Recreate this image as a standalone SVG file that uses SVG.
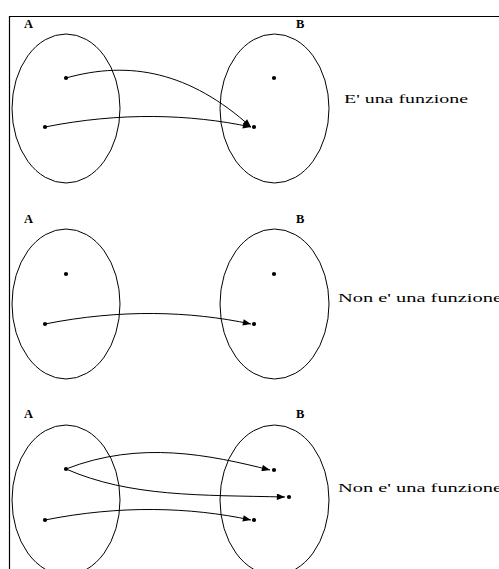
<svg xmlns="http://www.w3.org/2000/svg" width="499" height="569" viewBox="0 0 499 569">
<style>
.set{fill:none;stroke:#000;stroke-width:1}
.dot{fill:#000}
.lbl{font-family:"Liberation Serif",serif;font-size:12.5px;font-weight:bold;fill:#000}
.cap{font-family:"Liberation Serif",serif;font-size:13px;fill:#000}
.arr{fill:none;stroke:#000;stroke-width:1;marker-end:url(#ah)}
</style>
<defs>
<marker id="ah" viewBox="0 0 10 8" refX="10" refY="4" markerWidth="9" markerHeight="6.5" markerUnits="userSpaceOnUse" orient="auto">
<path d="M0,0 L10,4 L0,8 Z" fill="#000"/>
</marker>
</defs>
<rect width="499" height="569" fill="#fff"/>
<path d="M9.5,569 V16.5 H499" fill="none" stroke="#000" stroke-width="1.2"/>

<g id="panel1">
<g id="p1-A"><ellipse class="set" cx="66" cy="108.5" rx="54" ry="74.5"/><text class="lbl" x="24" y="28">A</text>
<circle class="dot" cx="66" cy="78" r="2.1"/><circle class="dot" cx="45" cy="127" r="2.1"/></g>
<g id="p1-B"><ellipse class="set" cx="274.5" cy="108.5" rx="54.5" ry="74.5"/><text class="lbl" x="296" y="28">B</text>
<circle class="dot" cx="274" cy="78" r="2.1"/><circle class="dot" cx="254" cy="127" r="2.1"/></g>
<text id="p1-caption" class="cap" x="344" y="103" textLength="124" lengthAdjust="spacingAndGlyphs">E' una funzione</text>
</g>

<g id="panel2">
<g id="p2-A"><ellipse class="set" cx="66" cy="304" rx="54" ry="75"/><text class="lbl" x="24" y="223">A</text>
<circle class="dot" cx="66" cy="274" r="2.1"/><circle class="dot" cx="45" cy="324" r="2.1"/></g>
<g id="p2-B"><ellipse class="set" cx="274.5" cy="304" rx="54.5" ry="75"/><text class="lbl" x="296" y="223">B</text>
<circle class="dot" cx="274" cy="274" r="2.1"/><circle class="dot" cx="254" cy="324" r="2.1"/></g>
<text id="p2-caption" class="cap" x="338" y="302" textLength="164" lengthAdjust="spacingAndGlyphs">Non e' una funzione</text>
</g>

<g id="panel3">
<g id="p3-A"><ellipse class="set" cx="66" cy="500" rx="54" ry="75"/><text class="lbl" x="24" y="418">A</text>
<circle class="dot" cx="66" cy="469" r="2.1"/><circle class="dot" cx="45" cy="520" r="2.1"/></g>
<g id="p3-B"><ellipse class="set" cx="274.5" cy="500" rx="54.5" ry="75"/><text class="lbl" x="296" y="418">B</text>
<circle class="dot" cx="274" cy="470" r="2.1"/><circle class="dot" cx="289" cy="497" r="2.1"/><circle class="dot" cx="254" cy="520" r="2.1"/></g>
<text id="p3-caption" class="cap" x="338" y="492" textLength="164" lengthAdjust="spacingAndGlyphs">Non e' una funzione</text>
</g>

<g id="connectors">
<path class="arr" d="M66,78 C130,60 190,72 251,127"/>
<path class="arr" d="M45,127 C120,112 190,114 251,127"/>
<path class="arr" d="M45,324 C120,309 190,311 251,324"/>
<path class="arr" d="M66,469 C140,440 210,455 270,470"/>
<path class="arr" d="M66,469 C130,497 200,495 285,497"/>
<path class="arr" d="M45,520 C120,505 190,507 251,520"/>
</g>
</svg>
